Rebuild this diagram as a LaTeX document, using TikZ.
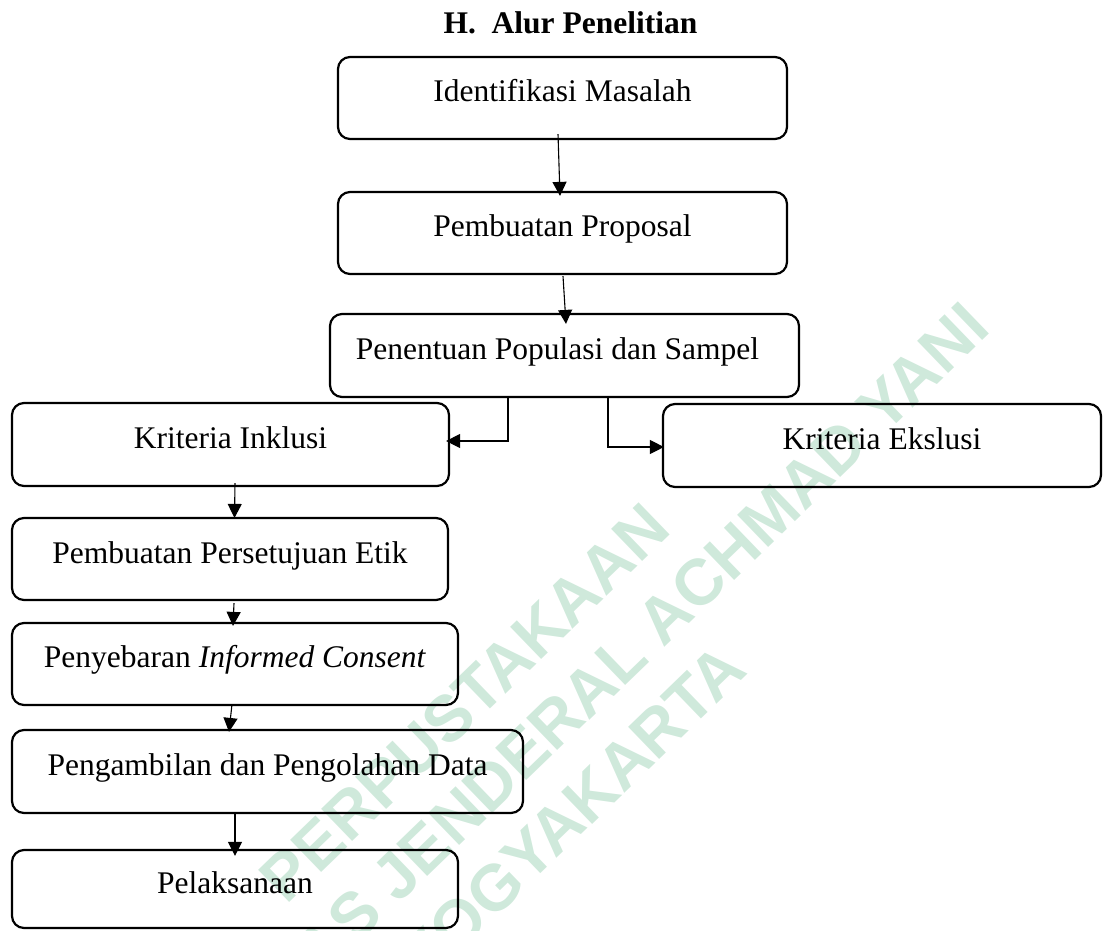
\documentclass[tikz,border=0pt]{standalone}
\usepackage{fontspec}
\setmainfont{Liberation Serif}
\newfontfamily\wmfont{Liberation Sans}
\usetikzlibrary{arrows.meta,calc}
\definecolor{wmgreen}{RGB}{207,233,219}
\begin{document}
\begin{tikzpicture}[x=1pt,y=-1pt,
  box/.style={draw,line width=2.2pt,rounded corners=12pt,inner sep=0pt,
    font=\fontsize{31.5}{36}\selectfont,text height=44pt,text depth=38pt},
  arr/.style={line width=1.1pt,-{Triangle[length=14pt,width=14pt]}},
  wm/.style={text=wmgreen,font=\wmfont\bfseries\fontsize{65}{77}\selectfont,align=center,inner sep=0pt}]
\useasboundingbox (0,0) rectangle (1103,930);
\begin{scope}
\clip (0,0) rectangle (1103,930);
\node[wm,rotate=44] (wmark) at (518,758) {PERPUSTAKAAN\\UNIVERSITAS JENDERAL ACHMAD YANI\\YOGYAKARTA};
\end{scope}
\node[anchor=base west,font=\bfseries\fontsize{31.5}{36}\selectfont] (title) at (440,33) {H.\hspace{0.5em}Alur Penelitian};
\node[box,minimum width=449pt] (idm) at (562.5,98) {Identifikasi Masalah};
\node[box,minimum width=449pt] (prop) at (562.5,233) {Pembuatan Proposal};
\node[box,minimum width=469pt,text height=45pt] (pop) at (564.5,355.5) {Penentuan Populasi dan Sampel\kern14pt};
\node[box,minimum width=437pt,text height=45pt] (ink) at (230.5,444.5) {Kriteria Inklusi};
\node[box,minimum width=438pt,text height=45pt] (eks) at (882,445.5) {Kriteria Ekslusi};
\node[box,minimum width=436pt,text height=45pt,text depth=37pt] (etik) at (230,559) {Pembuatan Persetujuan Etik};
\node[box,minimum width=446pt] (ic) at (235,664) {Penyebaran \textit{Informed Consent}};
\node[box,minimum width=511pt,text height=45pt] (data) at (267.5,771.5) {Pengambilan dan Pengolahan Data};
\node[box,minimum width=446pt,text height=43pt,text depth=35pt] (pel) at (235,889) {Pelaksanaan};
\draw[arr] ([xshift=-4.5pt,yshift=6pt]idm.south) -- ([xshift=-2.5pt,yshift=-5pt]prop.north);
\draw[arr] ([xshift=0.5pt,yshift=-1pt]prop.south) -- ([xshift=1.5pt,yshift=-11pt]pop.north);
\draw[arr] ([xshift=-56.5pt]pop.south) |- ([xshift=-4pt,yshift=3.5pt]ink.east);
\draw[arr] ([xshift=43.5pt]pop.south) |- ([xshift=2pt,yshift=-1.5pt]eks.west);
\draw[arr] ([xshift=4.5pt,yshift=4pt]ink.south) -- ([xshift=4.5pt,yshift=-1pt]etik.north);
\draw[arr] ([xshift=4pt,yshift=-2pt]etik.south) -- ([xshift=-2pt,yshift=-4pt]ic.north);
\draw[arr] ([xshift=-3pt,yshift=2pt]ic.south) -- ([xshift=-38.5pt,yshift=-3pt]data.north);
\draw[arr] ([xshift=-32.5pt]data.south) -- ([yshift=-7pt]pel.north);
\end{tikzpicture}
\end{document}
